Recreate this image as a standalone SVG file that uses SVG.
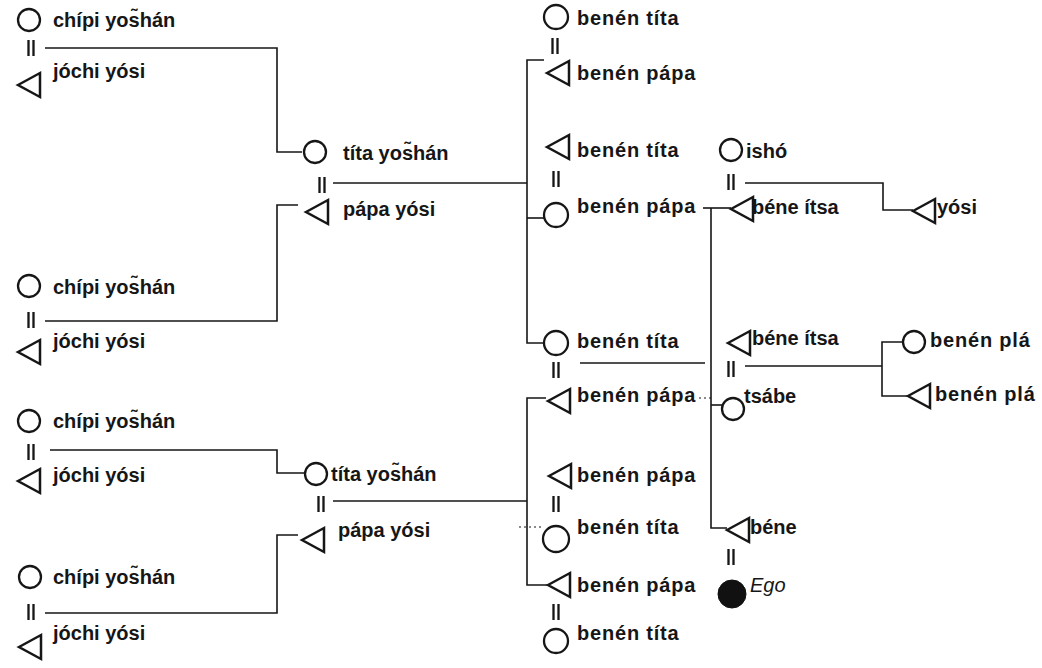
<svg xmlns="http://www.w3.org/2000/svg" xmlns:xlink="http://www.w3.org/1999/xlink" width="1042" height="668" viewBox="0 0 1042 668">
  <defs>
    <style>
      .bg { fill: #ffffff; }
      .ln { fill: none; stroke: #161616; stroke-width: 1.6; }
      .dot { fill: none; stroke: #161616; stroke-width: 1.2; stroke-dasharray: 2 3; }
      .eq { fill: none; stroke: #161616; stroke-width: 2.3; }
      .f { fill: none; stroke: #161616; stroke-width: 2.3; }
      .m { fill: none; stroke: #161616; stroke-width: 2.5; stroke-linejoin: miter; }
      .ego { fill: #111111; stroke: #111111; stroke-width: 1; }
      text { font-family: "Liberation Sans", Arial, Helvetica, sans-serif; font-weight: bold; font-size: 20px; fill: #161616; }
      text.w { letter-spacing: 0.8px; }
      text.it { font-style: italic; font-weight: normal; }
    </style>
    <!-- male symbol: triangle pointing left, centred on its bounding box -->
    <path id="tri" class="m" d="M -11 0 L 11 -12 L 11 12 Z"/>
    <!-- marriage sign: two short vertical strokes -->
    <path id="eq" class="eq" d="M -2.5 -8 V 8 M 2.5 -8 V 8"/>
  </defs>

  <rect class="bg" x="0" y="0" width="1042" height="668"/>

  <!-- lines of descent and marriage -->
  <g id="connectors">
    <path class="ln" d="M45 48 H277 V152 H302"/>
    <path class="ln" d="M298 205 H277 V321 H45"/>
    <path class="ln" d="M50 450 H277 V473 H304"/>
    <path class="ln" d="M298 535 H277 V613 H45"/>
    <path class="ln" d="M333 183 H527"/>
    <path class="ln" d="M333 501 H527"/>
    <path class="ln" d="M544 60 H527 V343 H544"/>
    <path class="ln" d="M527 218 H544"/>
    <path class="ln" d="M546 398 H527 V585 H547"/>
    <path class="dot" d="M519 527 H543"/>
    <path class="ln" d="M580 363 H705"/>
    <path class="ln" d="M703 208 H731"/>
    <path class="ln" d="M711 208 V528 H727"/>
    <path class="ln" d="M711 405 H722"/>
    <path class="dot" d="M699 398 H711"/>
    <path class="ln" d="M745 183 H883 V210 H913"/>
    <path class="ln" d="M745 366 H882"/>
    <path class="ln" d="M903 342 H882 V396 H908"/>
    <!-- marriage signs -->
    <use xlink:href="#eq" x="31" y="48"/>
    <use xlink:href="#eq" x="31" y="320"/>
    <use xlink:href="#eq" x="31" y="452"/>
    <use xlink:href="#eq" x="31" y="612"/>
    <use xlink:href="#eq" x="322" y="185"/>
    <use xlink:href="#eq" x="321" y="504"/>
    <use xlink:href="#eq" x="555" y="46"/>
    <use xlink:href="#eq" x="556" y="179"/>
    <use xlink:href="#eq" x="556" y="370"/>
    <use xlink:href="#eq" x="556" y="504"/>
    <use xlink:href="#eq" x="556" y="612"/>
    <use xlink:href="#eq" x="731" y="182"/>
    <use xlink:href="#eq" x="731" y="369"/>
    <use xlink:href="#eq" x="731" y="557"/>
  </g>

  <!-- generation I -->
  <g id="chipi1"><circle class="f" cx="29" cy="20" r="11"/><text x="53" y="27">chípi yos̃hán</text></g>
  <g id="jochi1"><use xlink:href="#tri" x="29" y="85"/><text x="53" y="78">jóchi yósi</text></g>
  <g id="chipi2"><circle class="f" cx="29" cy="286" r="11"/><text x="53" y="294">chípi yos̃hán</text></g>
  <g id="jochi2"><use xlink:href="#tri" x="29" y="352"/><text x="53" y="348">jóchi yósi</text></g>
  <g id="chipi3"><circle class="f" cx="29" cy="421" r="11"/><text x="53" y="428">chípi yos̃hán</text></g>
  <g id="jochi3"><use xlink:href="#tri" x="29" y="481"/><text x="53" y="482">jóchi yósi</text></g>
  <g id="chipi4"><circle class="f" cx="30" cy="577" r="11"/><text x="53" y="584">chípi yos̃hán</text></g>
  <g id="jochi4"><use xlink:href="#tri" x="30" y="647"/><text x="53" y="640">jóchi yósi</text></g>

  <!-- generation II -->
  <g id="tita1"><circle class="f" cx="315" cy="152" r="11"/><text x="343" y="160">títa yos̃hán</text></g>
  <g id="papa1"><use xlink:href="#tri" x="317" y="212"/><text x="343" y="216">pápa yósi</text></g>
  <g id="tita2"><circle class="f" cx="316" cy="474" r="11"/><text x="331" y="481">títa yos̃hán</text></g>
  <g id="papa2"><use xlink:href="#tri" x="313" y="540"/><text x="338" y="537">pápa yósi</text></g>

  <!-- generation III -->
  <g id="benen-tita1"><circle class="f" cx="556" cy="17" r="12"/><text class="w" x="577" y="25">benén títa</text></g>
  <g id="benen-papa1"><use xlink:href="#tri" x="558" y="73"/><text class="w" x="577" y="80">benén pápa</text></g>
  <g id="benen-tita2"><use xlink:href="#tri" x="558" y="147"/><text class="w" x="577" y="157">benén títa</text></g>
  <g id="benen-papa2"><circle class="f" cx="556" cy="215" r="12"/><text class="w" x="577" y="213">benén pápa</text></g>
  <g id="benen-tita3"><circle class="f" cx="556" cy="343" r="12"/><text class="w" x="577" y="348">benén títa</text></g>
  <g id="benen-papa3"><use xlink:href="#tri" x="559" y="401"/><text class="w" x="577" y="402">benén pápa</text></g>
  <g id="benen-papa4"><use xlink:href="#tri" x="560" y="476"/><text class="w" x="577" y="482">benén pápa</text></g>
  <g id="benen-tita4"><circle class="f" cx="556" cy="539" r="13"/><text class="w" x="577" y="534">benén títa</text></g>
  <g id="benen-papa5"><use xlink:href="#tri" x="559" y="585"/><text class="w" x="577" y="592">benén pápa</text></g>
  <g id="benen-tita5"><circle class="f" cx="556" cy="641" r="12"/><text class="w" x="577" y="640">benén títa</text></g>

  <!-- generation IV and V -->
  <g id="isho"><circle class="f" cx="731" cy="150" r="11"/><text x="746" y="158">ishó</text></g>
  <g id="yosi"><use xlink:href="#tri" x="924" y="211"/><text x="937" y="214">yósi</text></g>
  <g id="bene-itsa1"><use xlink:href="#tri" x="742" y="209"/><text x="752" y="214">béne ítsa</text></g>
  <g id="bene-itsa2"><use xlink:href="#tri" x="739" y="343"/><text x="752" y="345">béne ítsa</text></g>
  <g id="benen-pla1"><circle class="f" cx="914" cy="342" r="11"/><text class="w" x="930" y="347">benén plá</text></g>
  <g id="benen-pla2"><use xlink:href="#tri" x="919" y="396"/><text class="w" x="935" y="401">benén plá</text></g>
  <g id="tsabe"><circle class="f" cx="733" cy="409" r="11"/><text x="744" y="403">tsábe</text></g>
  <g id="bene"><use xlink:href="#tri" x="738" y="530"/><text x="750" y="534">béne</text></g>
  <g id="ego"><circle class="ego" cx="732" cy="594" r="14"/><text class="it" x="750" y="592">Ego</text></g>
</svg>
